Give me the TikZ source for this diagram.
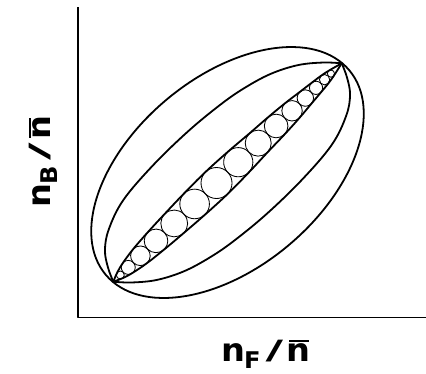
\documentclass[tikz,border=0pt]{standalone}
\usepackage{fontspec}
\usepackage{graphicx}
\newfontfamily\lblfont{DejaVu Sans}
\newcommand{\axlab}[1]{\scalebox{1.05}[1]{\lblfont\bfseries\fontsize{32}{32}\selectfont n\kern-1pt\raisebox{-7pt}{\fontsize{23}{23}\selectfont #1}\hspace{4.8pt}\raisebox{1.5pt}{\scalebox{1.43}[0.83]{/}}\hspace{3.6pt}\rlap{\hspace{2pt}\rule[19.4pt]{18.8pt}{1.9pt}}n}}
\begin{document}
\begin{tikzpicture}[x=1pt,y=-1pt,line join=round,line cap=round,
  curve/.style={line width=1.8pt},
  bubble/.style={line width=0.85pt},
  axisline/.style={line width=1.4pt}]
\useasboundingbox (0,0) rectangle (426,373);
% axes
\coordinate (ytop) at (78,7);
\coordinate (orig) at (78,317.5);
\coordinate (xend) at (426,317.5);
\draw[axisline,line cap=butt] (ytop) -- (orig) -- (xend);
% outer ellipse
\coordinate (M) at (227.5,172.5);
\draw[curve, rotate around={40:(M)}] (M) ellipse [x radius=159, y radius=95];
% local frame along the diagonal A--B
\begin{scope}[shift={(227.5pt,-172.5pt)}, x={(0.7228pt,0.6911pt)}, y={(-0.6911pt,0.7228pt)}]
  \coordinate (A) at (-158,0);
  \coordinate (B) at (158,0);
  % middle lens
  \draw[curve] plot[smooth, tension=0.6] coordinates {(-158,0) (-152,14) (-142.2,28.6) (-125,41) (-94.3,52.1) (-48.4,56.7) (0,57) (41.2,54) (70,49.5) (99.2,41.5) (125,29) (145,13.5) (158,0)};
  \draw[curve] plot[smooth, tension=0.6] coordinates {(158,0) (152,-14) (142.2,-28.6) (125,-41) (94.3,-52.1) (48.4,-56.7) (0,-57) (-41.2,-54) (-70,-49.5) (-99.2,-41.5) (-125,-29) (-145,-13.5) (-158,0)};
  % inner lens
  \draw[curve] plot[smooth, tension=0.6] coordinates {(-158,0) (-148.3,4.1) (-137.3,7.1) (-120.5,9.9) (-98.9,11.9) (-73.7,13.5) (-45.5,14.9) (-15.2,15.6) (14.9,14.7) (42.5,13.1) (67.3,11.9) (89.3,10.3) (107.7,8.3) (122.5,6.7) (134.3,5.3) (143.1,3.7) (158,0)};
  \draw[curve] plot[smooth, tension=0.6] coordinates {(-158,0) (-148.3,-4.1) (-137.3,-7.1) (-120.5,-9.9) (-98.9,-11.9) (-73.7,-13.5) (-45.5,-14.9) (-15.2,-15.6) (14.9,-14.7) (42.5,-13.1) (67.3,-11.9) (89.3,-10.3) (107.7,-8.3) (122.5,-6.7) (134.3,-5.3) (143.1,-3.7) (158,0)};
  % chain of circles
  \foreach \s/\r in {-148.3/4, -137.3/7, -120.5/9.8, -98.9/11.8, -73.7/13.4, -45.5/14.8, -15.2/15.5, 14.9/14.6, 42.5/13, 67.3/11.8, 89.3/10.2, 107.7/8.2, 122.5/6.6, 134.3/5.2, 143.1/3.6}
    \draw[bubble] (\s,0) circle[radius=\r];
\end{scope}
% axis labels
\node[anchor=base, inner sep=0pt] (xlab) at (266,361) {\axlab{F}};
\node[anchor=base, inner sep=0pt, rotate=90] (ylab) at (50,161.5) {\axlab{B}};
\end{tikzpicture}
\end{document}
